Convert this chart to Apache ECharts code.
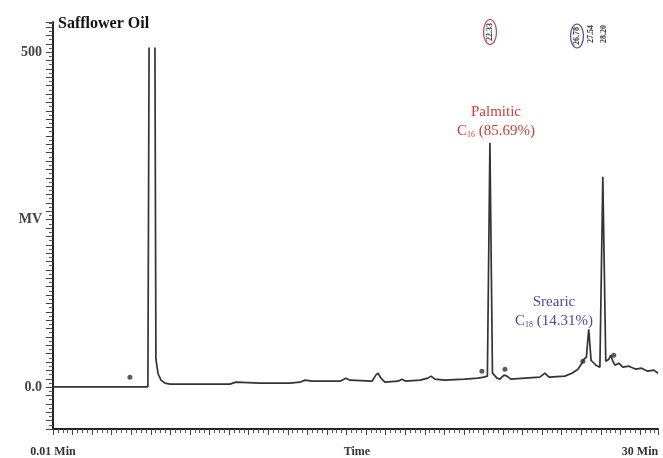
<!DOCTYPE html>
<html><head><meta charset="utf-8">
<script src="https://cdn.jsdelivr.net/npm/echarts@6/dist/echarts.min.js"></script>
<style>html,body{margin:0;padding:0;background:#fff}#c{width:663px;height:458px}</style>
</head><body><div id="c"></div>
<script>
const chartTitle = 'Safflower Oil';
// retention time (min) and detector signal (mV); null = pen lifted (off-scale top)
const timeMin = [0, 3.83, 4.85, 4.91, 5.05, 5.21, 5.26, 5.37, 5.52, 5.72, 5.98, 9.04, 9.35, 10.58, 12.11, 12.62, 12.88, 13.23, 14.67, 14.97, 15.18, 16.30, 16.50, 16.61, 16.76, 16.96, 17.63, 17.84, 18.04, 18.75, 19.16, 19.32, 19.52, 20.03, 21.05, 21.72, 22.02, 22.20, 22.33, 22.46, 22.69, 22.84, 23.05, 23.20, 23.40, 24.12, 24.88, 25.14, 25.35, 26.16, 26.52, 26.83, 27.03, 27.14, 27.26, 27.38, 27.50, 27.64, 27.75, 27.95, 28.10, 28.25, 28.41, 28.51, 28.61, 28.72, 28.92, 29.12, 29.43, 29.79, 30.08, 30.39, 30.71, 30.92];
const signalMV = [0.5, 0.5, 0.5, 507, null, 507, 41.7, 20, 10.4, 6.0, 4.5, 4.5, 7.4, 6.0, 6.0, 7.4, 10.4, 8.9, 8.9, 13.4, 10.4, 8.9, 17.9, 20.8, 13.4, 7.4, 8.9, 11.9, 8.9, 10.4, 13.4, 16.4, 11.9, 10.4, 11.9, 13.4, 14.9, 16.4, 364.6, 20.8, 13.4, 11.9, 17.9, 16.4, 11.9, 13.4, 14.9, 20.8, 14.9, 16.4, 20.8, 26.8, 35.7, 41.7, 44.6, 86.3, 40, 36, 32.7, 29.8, 314.0, 38.7, 41.7, 47.6, 38.7, 32.7, 35.7, 29.8, 31.3, 26.8, 28.3, 23.8, 25.3, 20.8];
// integration markers
const markerTime = [3.93, 21.92, 23.10, 27.08, 28.66];
const markerMV = [14.9, 23.8, 26.8, 38.7, 47.6];
// axis labels
const yLabelValues = [0, 250, 500];
const yLabelTexts = ['0.0', 'MV', '500'];
const xLabelValues = [0, 15.53, 30];
const xLabelTexts = ['0.01 Min', 'Time', '30 Min'];
// peak annotations
const peakNames = ['Palmitic', 'Srearic'];
const peakCarbons = ['16', '18'];
const peakPercents = ['85.69%', '14.31%'];
const rtLabels = ['22.33', '26.78', '27.54', '28.20'];

const serif = '"Liberation Serif", "DejaVu Serif", serif';
const chart = echarts.init(document.getElementById('c'));
const lineData = timeMin.map((t, i) => signalMV[i] == null ? [t, '-'] : [t, signalMV[i]]);
const markData = markerTime.map((t, i) => [t, markerMV[i]]);

function peakText(i, x, y1, y2, color) {
  return [
    {type: 'text', x: x, y: y1, style: {text: peakNames[i], fill: color, font: '15px ' + serif, align: 'center', verticalAlign: 'middle'}},
    {type: 'text', x: x, y: y2, style: {text: 'C{s|' + peakCarbons[i] + '} (' + peakPercents[i] + ')', fill: color, font: '15px ' + serif, align: 'center', verticalAlign: 'middle',
      rich: {s: {fontSize: 8, fontFamily: serif, fill: color, verticalAlign: 'bottom', padding: [8, 0, 0, 0]}}}}
  ];
}
function rt(i, x, y) {
  return {type: 'text', x: x, y: y, rotation: Math.PI / 2, style: {text: rtLabels[i], fill: '#333', font: 'bold 8px ' + serif, align: 'center', verticalAlign: 'middle'}};
}

chart.setOption({
  animation: false,
  backgroundColor: '#fff',
  grid: {left: 53, right: 5, top: 22, bottom: 28},
  xAxis: {
    type: 'value', min: 0, max: 30.92, interval: 1,
    axisLine: {onZero: false, lineStyle: {color: '#222', width: 2}},
    axisTick: {show: true, length: 6, lineStyle: {color: '#444'}},
    minorTick: {show: true, splitNumber: 4, length: 4, lineStyle: {color: '#555'}},
    splitLine: {show: false},
    axisLabel: {customValues: xLabelValues, formatter: v => xLabelTexts[xLabelValues.indexOf(v)] ?? '',
      margin: 17, fontFamily: serif, fontWeight: 'bold', fontSize: 12, color: '#333'}
  },
  yAxis: {
    type: 'value', min: -62.5, max: 545, interval: 12.5,
    axisLine: {show: true, onZero: false, lineStyle: {color: '#222', width: 2}},
    axisTick: {show: true, length: 7, lineStyle: {color: '#444'}},
    minorTick: {show: true, splitNumber: 2, length: 4, lineStyle: {color: '#555'}},
    splitLine: {show: false},
    axisLabel: {customValues: yLabelValues, formatter: v => yLabelTexts[yLabelValues.indexOf(v)] ?? '',
      margin: 11, fontFamily: serif, fontWeight: 'bold', fontSize: 14, color: '#444'}
  },
  series: [
    {type: 'line', data: lineData, showSymbol: false, connectNulls: false, lineStyle: {color: '#333', width: 1.7}},
    {type: 'scatter', data: markData, symbol: 'circle', symbolSize: 5, itemStyle: {color: '#333'}}
  ],
  graphic: [
    {type: 'text', x: 58, y: 24, style: {text: chartTitle, fill: '#111', font: 'bold 16px ' + serif, verticalAlign: 'middle'}},
    ...peakText(0, 496, 112, 131, '#d23a3a'),
    ...peakText(1, 554, 302, 321, '#4b4a98'),
    {type: 'ellipse', shape: {cx: 490, cy: 32, rx: 6.5, ry: 12.5}, style: {fill: 'none', stroke: '#c94040', lineWidth: 1.2}},
    {type: 'ellipse', shape: {cx: 577, cy: 36, rx: 6.5, ry: 12}, style: {fill: 'none', stroke: '#4b4a98', lineWidth: 1.2}},
    rt(0, 490, 32), rt(1, 577, 36), rt(2, 591, 34), rt(3, 604, 34)
  ]
});
</script></body></html>
